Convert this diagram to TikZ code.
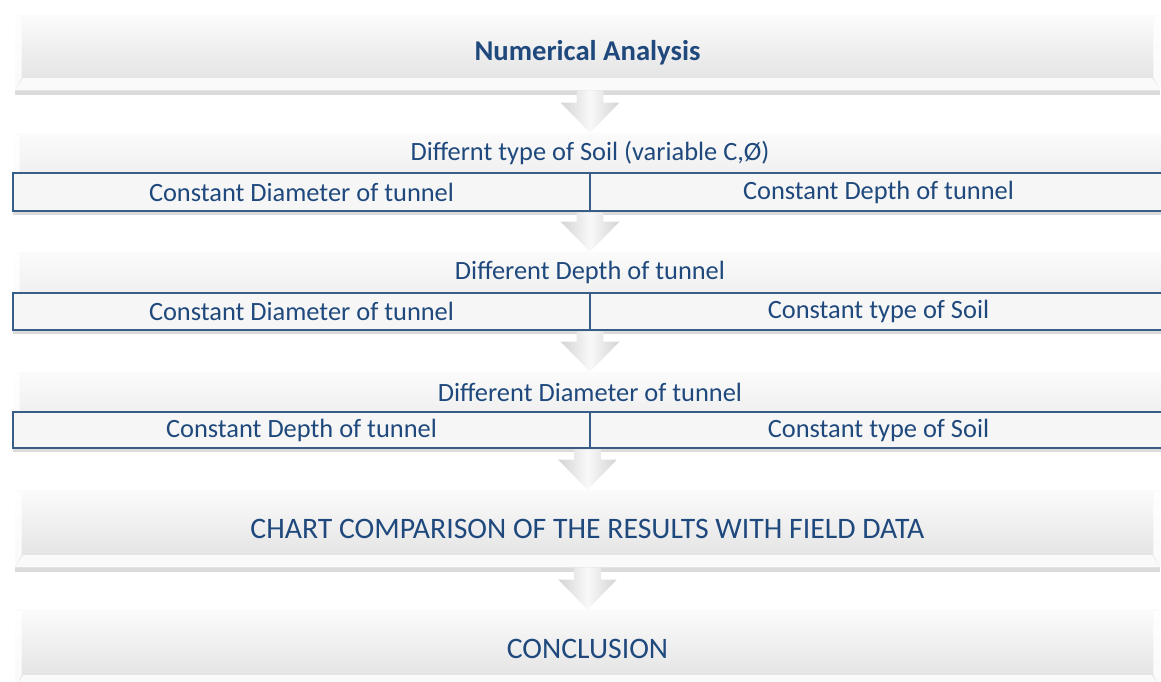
\documentclass[tikz,border=0pt]{standalone}
\usepackage{fontspec}
\setmainfont{Carlito}
\usetikzlibrary{calc}
\usetikzlibrary{shadows}

\definecolor{txtblue}{RGB}{31,73,125}
\definecolor{cellblue}{RGB}{56,93,138}

\tikzset{
  bigtext/.style={text=txtblue, font=\fontsize{19.8}{24}\selectfont},
  capstext/.style={font=\fontsize{22.3}{26}\selectfont},
  stage/.style={rectangle, inner sep=0pt, bigtext,
    top color=gray!3, bottom color=gray!24,
    drop shadow={shadow xshift=0pt, shadow yshift=-3.5pt, opacity=.35, fill=gray!80},
    path picture={
      \fill[white,opacity=.85] (path picture bounding box.south west) -- (path picture bounding box.south east)
        -- ([xshift=-6pt,yshift=9pt]path picture bounding box.south east) -- ([xshift=6pt,yshift=9pt]path picture bounding box.south west) -- cycle;
      \fill[white,opacity=.85] (path picture bounding box.north west) -- ([xshift=5pt,yshift=-2pt]path picture bounding box.north west)
        -- ([xshift=5pt,yshift=9pt]path picture bounding box.south west) -- (path picture bounding box.south west) -- cycle;
      \fill[white,opacity=.85] (path picture bounding box.north east) -- ([xshift=-5pt,yshift=-2pt]path picture bounding box.north east)
        -- ([xshift=-5pt,yshift=9pt]path picture bounding box.south east) -- (path picture bounding box.south east) -- cycle;
    }},
  header/.style={rectangle, inner sep=0pt, bigtext,
    top color=gray!3, bottom color=gray!12,
    path picture={
      \fill[white,opacity=.85] (path picture bounding box.north west) -- ([xshift=5pt,yshift=-2pt]path picture bounding box.north west)
        -- ([xshift=5pt]path picture bounding box.south west) -- (path picture bounding box.south west) -- cycle;
    }},
  cell/.style={rectangle, inner sep=0pt, bigtext, fill=gray!7, draw=cellblue, line width=2pt,
    drop shadow={shadow xshift=0pt, shadow yshift=-3pt, opacity=.35, fill=gray!80}},
  flowarrow/.style={left color=gray!34, right color=gray!34, middle color=gray!5}
}

% block arrow from the bottom of one box to the top of the next
\newcommand{\blockarrow}[2]{%
  \path[flowarrow] let \p1=(#1.south), \p2=(#2.north) in
    (\x2-10pt,\y1) -- (\x2+10pt,\y1) -- (\x2+10pt,\y2+22.5pt) -- (\x2+22pt,\y2+22.5pt)
    -- (\x2,\y2) -- (\x2-22pt,\y2+22.5pt) -- (\x2-10pt,\y2+22.5pt) -- cycle;}

\begin{document}
\begin{tikzpicture}[x=0.75pt,y=-0.75pt]
  \useasboundingbox (0,0) rectangle (1161,682);
  \clip (0,0) rectangle (1161,682);

  % main steps
  \node[stage, font=\fontsize{21.5}{26}\selectfont, minimum width=858.75pt, minimum height=56.25pt] (numan) at (587.5,52.5) {\textbf{Numerical Analysis}};

  \node[header, minimum width=865.5pt, minimum height=30pt] (soil) at (590,153) {Differnt type of Soil (variable C,Ø)};
  \node[cell, minimum width=432.75pt, minimum height=28.5pt] (soilL) at (301.5,192) {Constant Diameter of tunnel};
  \node[cell, minimum width=432.75pt, minimum height=28.5pt] (soilR) at (878.5,192) {Constant Depth of tunnel};

  \node[header, minimum width=865.5pt, minimum height=30.75pt] (depth) at (590,272.5) {Different Depth of tunnel};
  \node[cell, minimum width=432.75pt, minimum height=27.75pt] (depthL) at (301.5,311.5) {Constant Diameter of tunnel};
  \node[cell, minimum width=432.75pt, minimum height=27.75pt] (depthR) at (878.5,311.5) {Constant type of Soil};

  \node[header, minimum width=865.5pt, minimum height=30pt] (diam) at (590,392) {Different Diameter of tunnel};
  \node[cell, minimum width=432.75pt, minimum height=27pt] (diamL) at (301.5,430) {Constant Depth of tunnel};
  \node[cell, minimum width=432.75pt, minimum height=27pt] (diamR) at (878.5,430) {Constant type of Soil};

  \node[stage, capstext, minimum width=858.75pt, minimum height=57.75pt] (chart) at (587.5,528.5) {CHART COMPARISON OF THE RESULTS WITH FIELD DATA};
  \node[stage, capstext, minimum width=858.75pt, minimum height=58pt] (concl) at (587.5,648.5) {CONCLUSION};

  % arrows
  \blockarrow{numan}{soil}
  \blockarrow{soilL}{depth}
  \blockarrow{depthL}{diam}
  \blockarrow{diamL}{chart}
  \blockarrow{chart}{concl}
\end{tikzpicture}
\end{document}
